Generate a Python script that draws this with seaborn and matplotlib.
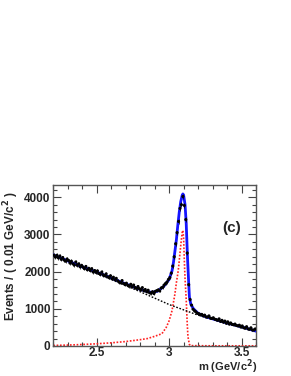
import numpy as np
import pandas as pd
import matplotlib
matplotlib.use("Agg")
import matplotlib.pyplot as plt
import seaborn as sns
from matplotlib.ticker import MultipleLocator

# ---- data -----------------------------------------------------------
bin_start = 2.205
bin_width = 0.01
counts = [
    2440, 2390, 2440, 2370, 2420, 2330, 2380, 2310, 2280, 2340,
    2300, 2230, 2280, 2210, 2180, 2260, 2170, 2210, 2130, 2170,
    2120, 2080, 2140, 2050, 2090, 2030, 2080, 1990, 2030, 1980,
    2020, 1950, 1930, 1990, 1910, 1890, 1940, 1860, 1840, 1890,
    1810, 1850, 1780, 1820, 1750, 1720, 1700, 1760, 1680, 1650,
    1690, 1630, 1610, 1660, 1590, 1640, 1570, 1550, 1600, 1540,
    1510, 1570, 1490, 1520, 1460, 1500, 1430, 1420, 1460, 1410,
    1470, 1490, 1510, 1480, 1560, 1580, 1640, 1680, 1720, 1790,
    1840, 1960, 2150, 2400, 2750, 3050, 3350, 3700, 3800, 4020,
    3780, 3400, 2500, 1650, 1250, 1100, 990, 950, 920, 880,
    870, 840, 850, 810, 830, 780, 780, 810, 750, 740,
    760, 720, 710, 690, 730, 660, 690, 640, 670, 610,
    650, 590, 620, 580, 570, 590, 550, 540, 560, 510,
    540, 490, 480, 520, 460, 450, 490, 430, 430, 460,
]
bin_centers = [round(bin_start + bin_width * i, 3) for i in range(len(counts))]

# total fit (blue)
total_x = [2.20, 2.30, 2.40, 2.50, 2.60, 2.70, 2.80, 2.85, 2.88, 2.92,
           2.96, 3.00, 3.02, 3.03, 3.05, 3.06, 3.07, 3.08, 3.09, 3.095,
           3.10, 3.11, 3.118, 3.127, 3.135, 3.14, 3.15, 3.168, 3.20, 3.25,
           3.30, 3.40, 3.50, 3.60]
total_y = [2450, 2290, 2130, 1990, 1830, 1670, 1525, 1465, 1440, 1475,
           1590, 1790, 2020, 2250, 2850, 3250, 3600, 3880, 4050, 4090,
           4060, 3800, 3300, 2370, 1700, 1320, 1120, 1000, 880, 790,
           730, 620, 515, 400]

# background (black dashed)
bkg_x = [2.20, 2.40, 2.60, 2.80, 3.00, 3.20, 3.40, 3.60]
bkg_y = [2430, 2110, 1790, 1460, 1115, 830, 610, 405]

# signal (red dotted)
sig_x = [2.20, 2.30, 2.40, 2.50, 2.60, 2.70, 2.80, 2.85, 2.90, 2.95,
         2.98, 3.00, 3.02, 3.04, 3.05, 3.06, 3.065, 3.08, 3.09, 3.095,
         3.10, 3.105, 3.11, 3.118, 3.125, 3.13, 3.14, 3.15, 3.30, 3.60]
sig_y = [15, 25, 40, 60, 85, 120, 170, 200, 260, 330,
         500, 680, 950, 1400, 1700, 1950, 2100, 2700, 3050, 3110,
         2900, 2300, 1800, 1250, 600, 250, 40, 10, 5, 5]

# ---- plot -------------------------------------------------------------
sns.set_style("ticks")
plt.rcParams["font.family"] = ["Liberation Sans", "DejaVu Sans"]
plt.rcParams["font.weight"] = "bold"

fig = plt.figure(figsize=(2.91, 3.76), dpi=100)
ax = fig.add_axes([53.3 / 291, 30 / 376, 202.7 / 291, 161 / 376])

df_pts = pd.DataFrame({"m": bin_centers, "n": counts})
df_tot = pd.DataFrame({"m": total_x, "n": total_y})
df_bkg = pd.DataFrame({"m": bkg_x, "n": bkg_y})
df_sig = pd.DataFrame({"m": sig_x, "n": sig_y})

sns.lineplot(data=df_sig, x="m", y="n", ax=ax, color="#ff2020", lw=1.2,
             linestyle=(0, (1, 1)), sort=False, zorder=2)
sns.lineplot(data=df_bkg, x="m", y="n", ax=ax, color="black", lw=1.0,
             linestyle=(0, (1.2, 1.2)), sort=False, zorder=2)
sns.lineplot(data=df_tot, x="m", y="n", ax=ax, color="#1515ff", lw=2.0,
             sort=False, zorder=3)
ax.errorbar(df_pts["m"], df_pts["n"], yerr=np.sqrt(df_pts["n"]),
            fmt="none", ecolor="black", elinewidth=0.5, zorder=4)
sns.scatterplot(data=df_pts, x="m", y="n", ax=ax, color="black", s=5,
                edgecolor="none", zorder=5)

ax.set_xlim(2.2, 3.6)
ax.set_ylim(0, 4330)
ax.xaxis.set_major_locator(MultipleLocator(0.5))
ax.xaxis.set_minor_locator(MultipleLocator(0.1))
ax.yaxis.set_major_locator(MultipleLocator(1000))
ax.yaxis.set_minor_locator(MultipleLocator(200))
ax.set_xticks([2.5, 3.0, 3.5])
ax.set_xticklabels(["2.5", "3", "3.5"])
ax.tick_params(which="both", direction="in", top=True, right=True,
               labelsize=8.5, color="#444444", width=0.8)
ax.tick_params(which="major", length=6)
ax.tick_params(which="minor", length=3)
ax.tick_params(axis="x", pad=0.5)
ax.tick_params(axis="y", pad=2)
for lab in ax.get_xticklabels() + ax.get_yticklabels():
    lab.set_fontweight("bold")
for sp in ax.spines.values():
    sp.set_color("#555555")
    sp.set_linewidth(1.0)

ax.set_xlabel("")
ax.set_ylabel("")
fig.text(257 / 291, 1 - 370.5 / 376, r"m (GeV/c$^\mathbf{2}$)", ha="right",
         va="baseline", fontsize=8, fontweight="bold")
fig.text(11 / 291, 1 - 191 / 376, r"Events / ( 0.01 GeV/c$^\mathbf{2}$ )",
         rotation=90, ha="center", va="top", fontsize=8.5, fontweight="bold")
ax.text(0.88, 0.73, "(c)", transform=ax.transAxes, ha="center", va="center",
        fontsize=11, fontweight="bold")

fig.savefig("out.png", dpi=100)
